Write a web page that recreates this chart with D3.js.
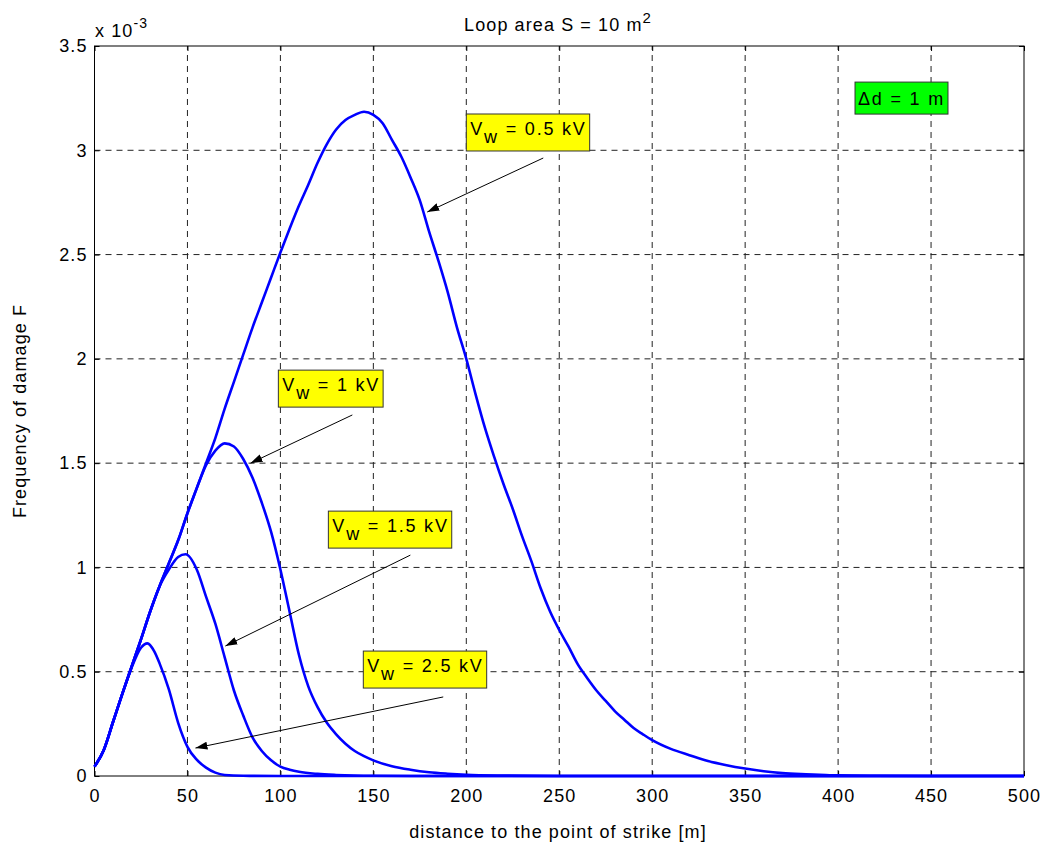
<!DOCTYPE html>
<html>
<head>
<meta charset="utf-8">
<script src="https://cdn.jsdelivr.net/npm/d3@7"></script>
<style>
  body { margin: 0; background: #fff; }
  text { font-family: "Liberation Sans", Arial, sans-serif; fill: #000; letter-spacing: 1.1px; }
  text.boxed { letter-spacing: 1.8px; }
</style>
</head>
<body>
<div id="chart"></div>
<script>
// distance [m] and frequency of damage [x 1e-3]
var dist05 = [0,5,10,15,20,25,30,35,40,45,50,55,60,65,70,75,80,85,90,95,100,105,110,115,120,125,130,135,140,145,150,155,160,165,170,175,180,185,190,195,200,205,210,215,220,225,230,235,240,245,250,255,260,265,270,275,280,285,290,295,300,310,320,330,340,350,360,370,380,390,400,420,450,500];
var f05 = [0.045,0.125,0.26,0.395,0.525,0.655,0.79,0.91,1.02,1.13,1.26,1.38,1.50,1.62,1.76,1.89,2.02,2.15,2.27,2.39,2.51,2.625,2.735,2.835,2.94,3.03,3.10,3.145,3.17,3.185,3.17,3.13,3.05,2.97,2.87,2.76,2.61,2.47,2.32,2.15,2.0,1.83,1.67,1.53,1.40,1.28,1.15,1.03,0.90,0.79,0.70,0.62,0.535,0.47,0.41,0.36,0.31,0.27,0.23,0.20,0.172,0.13,0.10,0.072,0.052,0.036,0.023,0.014,0.009,0.006,0.003,0.001,0,0];

var dist1 = [0,5,10,15,20,25,30,35,40,45,50,55,60,65,70,75,80,85,90,95,100,105,110,115,120,125,130,135,140,145,150,160,170,180,190,200,220,250,500];
var f1 = [0.045,0.125,0.26,0.395,0.525,0.655,0.79,0.91,1.02,1.13,1.26,1.38,1.49,1.56,1.595,1.58,1.52,1.43,1.31,1.17,0.99,0.785,0.58,0.43,0.33,0.255,0.20,0.155,0.12,0.095,0.075,0.047,0.03,0.018,0.011,0.006,0.002,0,0];

var dist15 = [0,5,10,15,20,25,30,35,40,45,49,55,60,65,70,75,80,85,90,95,100,105,110,120,130,150,200,500];
var f15 = [0.045,0.125,0.26,0.395,0.525,0.655,0.79,0.91,0.99,1.05,1.063,0.99,0.86,0.73,0.57,0.41,0.29,0.185,0.12,0.075,0.045,0.03,0.02,0.01,0.005,0.001,0,0];

var dist25 = [0,5,10,15,20,25,28.5,32,35,40,45,50,55,60,65,70,80,100,500];
var f25 = [0.045,0.125,0.26,0.395,0.52,0.615,0.636,0.6,0.54,0.415,0.255,0.14,0.078,0.04,0.016,0.005,0.001,0,0];

var xTicks = [0,50,100,150,200,250,300,350,400,450,500];
var yTicks = [0,0.5,1,1.5,2,2.5,3,3.5];
var yTickLabels = ['0','0.5','1','1.5','2','2.5','3','3.5'];

var labels = ['0.5 kV', '1 kV', '1.5 kV', '2.5 kV'];
// box corner (x, y top) and arrow tail / head, in data units
var labelBox = [[200, 3.174], [98.9, 1.946], [125.8, 1.270], [144.6, 0.599]];
var arrowFrom = [[241.4, 2.963], [138.7, 1.731], [169.9, 1.059], [187.6, 0.379]];
var arrowTo = [[179.0, 2.704], [83.9, 1.50], [70.4, 0.623], [54.3, 0.134]];

var width = 1043, height = 843;
var svg = d3.select('#chart').append('svg')
  .attr('width', width)
  .attr('height', height);

var x = d3.scaleLinear().domain([0, 500]).range([94.5, 1024]);
var y = d3.scaleLinear().domain([0, 3.5]).range([776, 46]);

var defs = svg.append('defs');
defs.append('marker')
  .attr('id', 'head')
  .attr('viewBox', '0 0 12 8')
  .attr('refX', 12).attr('refY', 4)
  .attr('markerWidth', 12).attr('markerHeight', 8)
  .attr('markerUnits', 'userSpaceOnUse')
  .attr('orient', 'auto')
  .append('path').attr('d', 'M0,0 L12,4 L0,8 Z').attr('fill', '#000');

// grid
var gridLayer = svg.append('g').attr('class', 'grid');
gridLayer.selectAll('line.vgrid').data(xTicks.slice(1, -1))
  .enter().append('line')
  .attr('x1', function(d) { return x(d); })
  .attr('x2', function(d) { return x(d); })
  .attr('y1', y(0)).attr('y2', y(3.5))
  .attr('stroke', '#222').attr('stroke-width', 1)
  .attr('stroke-dasharray', '6,5');
gridLayer.selectAll('line.hgrid').data(yTicks.slice(1, -1))
  .enter().append('line')
  .attr('y1', function(d) { return y(d); })
  .attr('y2', function(d) { return y(d); })
  .attr('x1', x(0)).attr('x2', x(500))
  .attr('stroke', '#222').attr('stroke-width', 1)
  .attr('stroke-dasharray', '6,5');

// axes, ticks pointing inwards like MATLAB
function styleAxis(g) {
  g.select('.domain').remove();
  g.selectAll('.tick line').attr('stroke', '#000');
  g.selectAll('.tick text').style('font-size', '18px')
    .style('font-family', '"Liberation Sans", Arial, sans-serif');
}
svg.append('g').attr('transform', 'translate(0,' + y(0) + ')')
  .call(d3.axisBottom(x).tickValues(xTicks).tickSize(-5).tickPadding(13))
  .call(styleAxis);
svg.append('g').attr('transform', 'translate(0,' + y(3.5) + ')')
  .call(d3.axisTop(x).tickValues(xTicks).tickSize(-5).tickFormat(''))
  .call(styleAxis);
svg.append('g').attr('transform', 'translate(' + x(0) + ',0)')
  .call(d3.axisLeft(y).tickValues(yTicks).tickSize(-5).tickPadding(7)
    .tickFormat(function(d, i) { return yTickLabels[i]; }))
  .call(styleAxis);
svg.append('g').attr('transform', 'translate(' + x(500) + ',0)')
  .call(d3.axisRight(y).tickValues(yTicks).tickSize(-5).tickFormat(''))
  .call(styleAxis);

svg.append('rect')
  .attr('x', x(0)).attr('y', y(3.5))
  .attr('width', x(500) - x(0)).attr('height', y(0) - y(3.5))
  .attr('fill', 'none').attr('stroke', '#000').attr('stroke-width', 1);

// curves
var line = d3.line()
  .x(function(d) { return x(d[0]); })
  .y(function(d) { return y(d[1]); })
  .curve(d3.curveMonotoneX);
var series = [[dist05, f05], [dist1, f1], [dist15, f15], [dist25, f25]];
svg.append('g').selectAll('path.curve').data(series)
  .enter().append('path')
  .attr('d', function(s) { return line(d3.zip(s[0], s[1])); })
  .attr('fill', 'none')
  .attr('stroke', '#0000ff')
  .attr('stroke-width', 2.6)
  .attr('stroke-linejoin', 'round');

// annotations
var ann = svg.append('g');
labels.forEach(function(lab, i) {
  var g = ann.append('g');
  var bx = x(labelBox[i][0]), by = y(labelBox[i][1]);
  var rect = g.append('rect')
    .attr('x', bx).attr('y', by).attr('height', 37)
    .attr('fill', '#ffff00').attr('stroke', '#333').attr('stroke-width', 1);
  var t = g.append('text').attr('class', 'boxed')
    .attr('x', bx + 4).attr('y', by + 21)
    .style('font-size', '18px');
  t.append('tspan').text('V');
  t.append('tspan').attr('dy', 8).text('w');
  t.append('tspan').attr('dy', -8).text(' = ' + lab);
  rect.attr('width', t.node().getComputedTextLength() + 7);
  ann.append('line')
    .attr('x1', x(arrowFrom[i][0])).attr('y1', y(arrowFrom[i][1]))
    .attr('x2', x(arrowTo[i][0])).attr('y2', y(arrowTo[i][1]))
    .attr('stroke', '#000').attr('stroke-width', 1)
    .attr('marker-end', 'url(#head)');
});

var dg = ann.append('g');
var drect = dg.append('rect')
  .attr('x', x(409.1)).attr('y', y(3.327)).attr('height', 32)
  .attr('fill', '#00ff00').attr('stroke', '#333').attr('stroke-width', 1);
var dt = dg.append('text').attr('class', 'boxed')
  .attr('x', x(409.1) + 3).attr('y', y(3.327) + 23)
  .style('font-size', '18px').text('\u0394d = 1 m');
drect.attr('width', dt.node().getComputedTextLength() + 6);

// titles
var title = svg.append('text').attr('x', 558).attr('y', 31)
  .attr('text-anchor', 'middle').style('font-size', '18px');
title.append('tspan').text('Loop area S = 10 m');
title.append('tspan').attr('dy', -8).style('font-size', '15px').text('2');

var exp = svg.append('text').attr('x', 95).attr('y', 37).style('font-size', '18px');
exp.append('tspan').text('x 10');
exp.append('tspan').attr('dy', -9).style('font-size', '14px').text('-3');

svg.append('text').attr('x', 558).attr('y', 838)
  .attr('text-anchor', 'middle').style('font-size', '18px')
  .text('distance to the point of strike [m]');

svg.append('text')
  .attr('transform', 'translate(26,411) rotate(-90)')
  .attr('text-anchor', 'middle').style('font-size', '18px')
  .text('Frequency of damage F');
</script>
</body>
</html>
